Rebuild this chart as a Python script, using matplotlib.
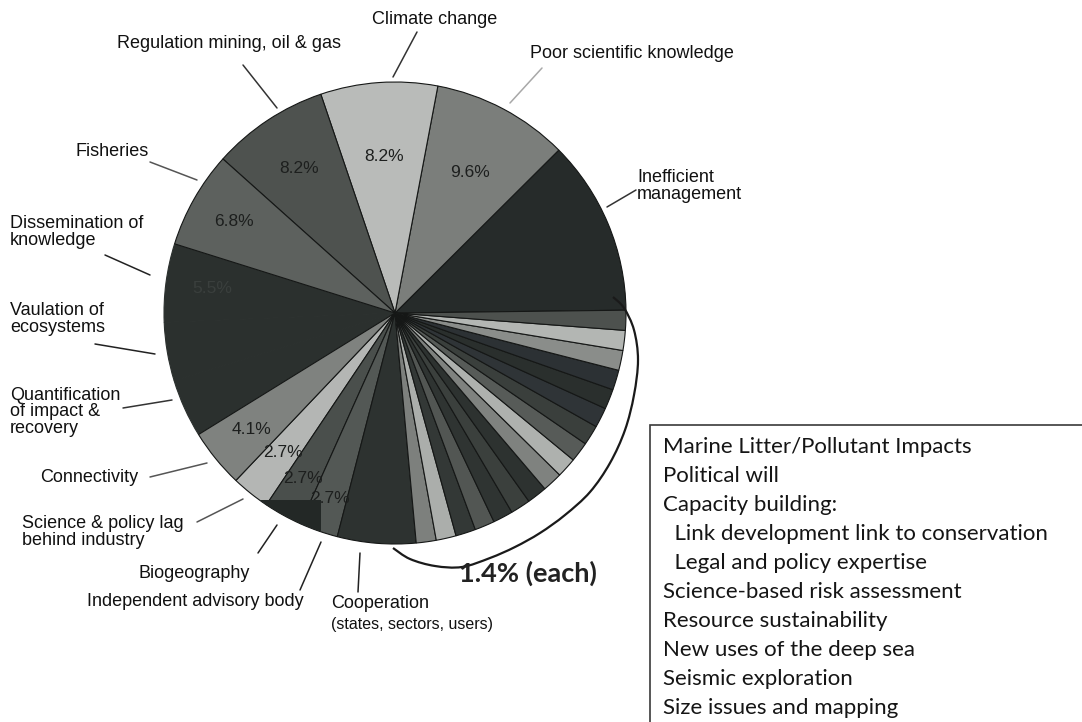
import numpy as np
import matplotlib
matplotlib.use("Agg")
import matplotlib.pyplot as plt
from matplotlib.path import Path
from matplotlib.patches import PathPatch, Rectangle, Circle

# ---- data -------------------------------------------------------------
major_labels = [
    "Inefficient\nmanagement",
    "Poor scientific knowledge",
    "Climate change",
    "Regulation mining, oil & gas",
    "Fisheries",
    "Dissemination of\nknowledge",
    "Vaulation of\necosystems",
    "Quantification\nof impact &\nrecovery",
    "Connectivity",
    "Science & policy lag\nbehind industry",
    "Biogeography",
    "Independent advisory body",
    "Cooperation",
]
major_values = [12.3, 9.6, 8.2, 8.2, 6.8, 5.5, 4.1, 4.1, 4.1, 2.7, 2.7, 2.7, 5.5]
minor_value = 1.4
minor_count = 17
minor_items = [
    "Marine Litter/Pollutant Impacts",
    "Political will",
    "Capacity building:",
    "  Link development link to conservation",
    "  Legal and policy expertise",
    "Science-based risk assessment",
    "Resource sustainability",
    "New uses of the deep sea",
    "Seismic exploration",
    "Size issues and mapping",
]
minor_caption = "1.4% (each)"
cooperation_note = "(states, sectors, users)"

# ---- styling ----------------------------------------------------------
W, H = 1082, 722
major_colors = ["#262b2a", "#7b7e7b", "#b9bbb9", "#4e524f", "#5d615e",
                "#2b302e", "#2b302e", "#2b302e", "#7f827f", "#b4b6b4",
                "#4a4f4c", "#535855", "#2d3230"]
minor_colors = ["#7d807d", "#abaeab", "#333836", "#525653", "#2f3432",
                "#3b403d", "#2d3230", "#7f827f", "#aeb1ae", "#575b58",
                "#3a3f3c", "#2f3437", "#2a2f2d", "#2c3134", "#8a8d8a",
                "#b3b6b3", "#4d514e"]
# radial position (fraction of radius) and ink colour of each percentage
pct_dist = [0.74, 0.69, 0.68, 0.75, 0.80, 0.80, 0.78, 0.78, 0.80,
            0.775, 0.82, 0.85, 0.78]
pct_ink = ["#262b2a", "#1d1f1e", "#1d1f1e", "#1d1f1e", "#1d1f1e",
           "#3a3f3d", "#2b302e", "#2b302e", "#1d1f1e", "#1d1f1e",
           "#1d1f1e", "#1d1f1e", "#2d3230"]

CX, CY, R = 395, 313, 231          # pie centre / radius in pixels


def Y(y):
    return H - y


plt.rcParams["font.family"] = ["Liberation Sans", "DejaVu Sans"]
fig = plt.figure(figsize=(W / 100, H / 100), dpi=100)
ax = fig.add_axes([0, 0, 1, 1])

values = major_values + [minor_value] * minor_count
colors = major_colors + minor_colors
wedges, _ = ax.pie(values, colors=colors, startangle=0.7, counterclock=True,
                   center=(CX, Y(CY)), radius=R,
                   wedgeprops=dict(edgecolor="#151716", linewidth=0.8))
# the three dark slices on the left read as one block
for i in (5, 6, 7):
    wedges[i].set_edgecolor(major_colors[i])
for i in (4, 8):
    wedges[i].set_zorder(wedges[i].get_zorder() + 0.5)

ax.set_xlim(0, W)
ax.set_ylim(0, H)
ax.set_aspect("auto")
ax.axis("off")

# percentage labels inside the large slices
for w, v, d, ink in zip(wedges, major_values, pct_dist, pct_ink):
    mid = np.deg2rad((w.theta1 + w.theta2) / 2)
    ax.text(CX + d * R * np.cos(mid), Y(CY) + d * R * np.sin(mid),
            f"{v:.1f}%", ha="center", va="center", fontsize=12.5,
            color=ink, zorder=4)

# dark block over the lower-left rim, clipped to the pie disc
disc = Circle((CX, Y(CY)), R, transform=ax.transData)
block = Rectangle((257, Y(548)), 64, 48, facecolor="#232826",
                  edgecolor="none", zorder=5)
ax.add_patch(block)
block.set_clip_path(disc)

# category labels with leader lines
label_pos = {
    0: (637, 186, "left"),
    1: (632, 53, "center"),
    2: (435, 19, "center"),
    3: (229, 43, "center"),
    4: (112, 151, "center"),
    5: (10, 232, "left"),
    6: (10, 319, "left"),
    7: (10, 412, "left"),
    8: (40, 477, "left"),
    9: (22, 532, "left"),
    10: (139, 573, "left"),
    11: (304, 602, "right"),
    12: (331, 603, "left"),
}
leaders = {
    0: ((607, 207), (636, 190), "#333333"),
    1: ((542, 68), (510, 103), "#a8a8a8"),
    2: ((417, 32), (393, 77), "#333333"),
    3: ((243, 65), (277, 108), "#333333"),
    4: ((150, 162), (197, 180), "#555555"),
    5: ((105, 255), (150, 275), "#222222"),
    6: ((95, 344), (155, 354), "#222222"),
    7: ((123, 408), (172, 400), "#333333"),
    8: ((150, 477), (207, 463), "#555555"),
    9: ((197, 522), (243, 499), "#555555"),
    10: ((258, 553), (277, 525), "#222222"),
    11: ((300, 590), (321, 542), "#222222"),
    12: ((358, 592), (360, 553), "#222222"),
}
for i, text in enumerate(major_labels):
    x, y, ha = label_pos[i]
    ax.text(x, Y(y), text, ha=ha, va="center", fontsize=13,
            color="#111111", linespacing=0.95)
    (x0, y0), (x1, y1), c = leaders[i]
    ax.plot([x0, x1], [Y(y0), Y(y1)], color=c, lw=1.1, solid_capstyle="round")
ax.text(331, Y(625), cooperation_note, ha="left", va="center",
        fontsize=11.5, color="#111111")


# brace around the small slices
def smooth_path(pts):
    p = np.asarray(pts, float)
    ext = np.vstack([p[0], p, p[-1]])
    verts = [tuple(p[0])]
    codes = [Path.MOVETO]
    for i in range(1, len(ext) - 2):
        p0, p1, p2, p3 = ext[i - 1], ext[i], ext[i + 1], ext[i + 2]
        c1 = p1 + (p2 - p0) / 6
        c2 = p2 - (p3 - p1) / 6
        verts += [tuple(c1), tuple(c2), tuple(p2)]
        codes += [Path.CURVE4] * 3
    return Path(verts, codes)


brace_pts = [(393, 548), (410, 559), (435, 566), (462, 567), (490, 558),
             (515, 547), (540, 533), (565, 515), (590, 492), (610, 463),
             (625, 430), (634, 395), (638, 360), (634, 330), (624, 308),
             (613, 297)]
brace = smooth_path([(x, Y(y)) for x, y in brace_pts])
ax.add_patch(PathPatch(brace, facecolor="none", edgecolor="#1a1a1a", lw=1.6))
ax.text(528, Y(573), minor_caption, ha="center", va="center", fontsize=19.5,
        fontweight="bold", family=["Lato", "DejaVu Sans"], color="#222222")

# box listing the single-mention items
ax.add_patch(Rectangle((650, Y(740)), 445, 315, facecolor="white",
                       edgecolor="#3a3a3a", lw=1.2, clip_on=False))
for k, item in enumerate(minor_items):
    ax.text(663, Y(447 + k * 29.0), item, ha="left", va="center",
            fontsize=16, family=["Lato", "DejaVu Sans"], color="#151515")

fig.savefig("out.png", dpi=100, facecolor="white")
